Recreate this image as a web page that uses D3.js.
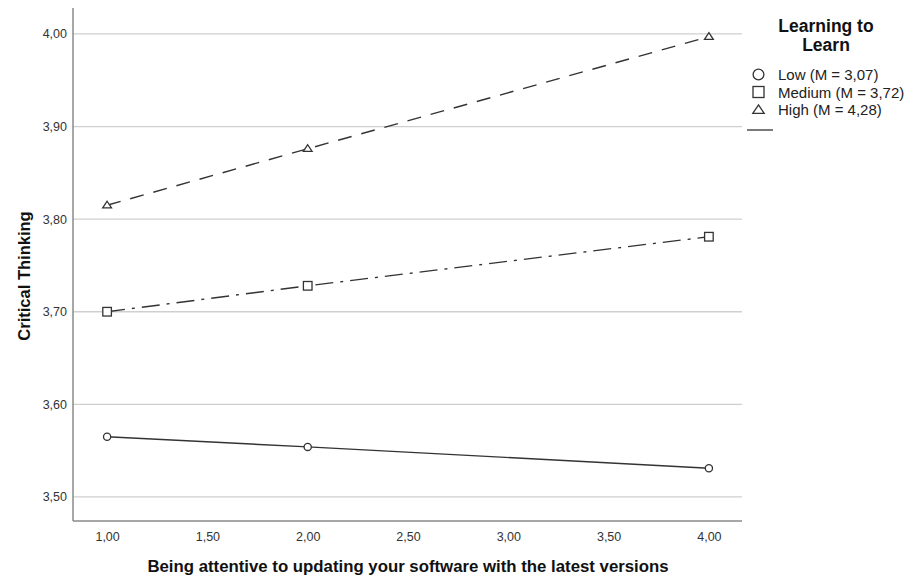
<!DOCTYPE html>
<html>
<head>
<meta charset="utf-8">
<script src="https://cdn.jsdelivr.net/npm/d3@7"></script>
<style>
  html, body { margin: 0; padding: 0; background: #fff; }
  svg { display: block; font-family: Arial, "Liberation Sans", sans-serif; }
</style>
</head>
<body>
<svg id="chart" width="915" height="585"></svg>
<script>
// Estimated marginal means of Critical Thinking by software-updating attentiveness
const xValues = [1, 2, 4];
const lowValues = [3.565, 3.554, 3.531];
const mediumValues = [3.700, 3.728, 3.781];
const highValues = [3.815, 3.876, 3.997];
const seriesNames = ["Low (M = 3,07)", "Medium (M = 3,72)", "High (M = 4,28)"];
const xTicks = [1.0, 1.5, 2.0, 2.5, 3.0, 3.5, 4.0];
const yTicks = [3.5, 3.6, 3.7, 3.8, 3.9, 4.0];

const series = [
  { name: seriesNames[0], values: lowValues, symbol: "circle", dash: null },
  { name: seriesNames[1], values: mediumValues, symbol: "square", dash: "18,7,3,7" },
  { name: seriesNames[2], values: highValues, symbol: "triangle", dash: "14,10" }
];

const svg = d3.select("#chart");
const plot = { left: 73, right: 742, top: 8, bottom: 521 };

const x = d3.scaleLinear().domain([0.83, 4.165]).range([plot.left, plot.right]);
const y = d3.scaleLinear().domain([3.474, 4.028]).range([plot.bottom, plot.top]);

const fmt = d => d3.format(".2f")(d).replace(".", ",");

// horizontal gridlines
svg.append("g")
  .selectAll("line")
  .data(yTicks)
  .join("line")
  .attr("x1", plot.left).attr("x2", plot.right)
  .attr("y1", d => y(d)).attr("y2", d => y(d))
  .attr("stroke", "#cfcfcf").attr("stroke-width", 1.3);

// axes
const xAxis = svg.append("g")
  .attr("transform", `translate(0,${plot.bottom})`)
  .call(d3.axisBottom(x).tickValues(xTicks).tickFormat(fmt).tickSize(0).tickPadding(11));
const yAxis = svg.append("g")
  .attr("transform", `translate(${plot.left},0)`)
  .call(d3.axisLeft(y).tickValues(yTicks).tickFormat(fmt).tickSize(0).tickPadding(6));
[xAxis, yAxis].forEach(g => {
  g.select(".domain").attr("stroke", "#8a8a8a").attr("stroke-width", 1.5);
  g.selectAll("text").attr("fill", "#333").style("font-size", "12.5px")
    .style("font-family", "Arial, 'Liberation Sans', sans-serif");
});
xAxis.select(".domain").attr("d", `M${plot.left},0H${plot.right}`);
yAxis.select(".domain").attr("d", `M0,${plot.top}V${plot.bottom}`);

// axis titles
svg.append("text")
  .attr("x", 408).attr("y", 572)
  .attr("text-anchor", "middle")
  .style("font-size", "16.8px").style("font-weight", "bold")
  .attr("fill", "#111")
  .text("Being attentive to updating your software with the latest versions");
svg.append("text")
  .attr("transform", `translate(30,276) rotate(-90)`)
  .attr("text-anchor", "middle")
  .style("font-size", "16.5px").style("font-weight", "bold")
  .attr("fill", "#111")
  .text("Critical Thinking");

const line = d3.line().x((d, i) => x(xValues[i])).y(d => y(d));

function drawSymbol(g, type, cx, cy, scale) {
  const s = scale || 1;
  if (type === "circle") {
    g.append("circle").attr("cx", cx).attr("cy", cy).attr("r", 3.6 * s)
      .attr("fill", "#fff").attr("stroke", "#333").attr("stroke-width", 1.3);
  } else if (type === "square") {
    const h = 4.3 * s;
    g.append("rect").attr("x", cx - h).attr("y", cy - h).attr("width", 2 * h).attr("height", 2 * h)
      .attr("fill", "#fff").attr("stroke", "#333").attr("stroke-width", 1.3);
  } else {
    const h = 4 * s;
    g.append("path")
      .attr("d", `M${cx},${cy - h}L${cx + h * 1.1},${cy + h * 0.65}L${cx - h * 1.1},${cy + h * 0.65}Z`)
      .attr("fill", "#fff").attr("stroke", "#333").attr("stroke-width", 1.3);
  }
}

const lines = svg.append("g");
series.forEach(s => {
  lines.append("path")
    .datum(s.values)
    .attr("d", line)
    .attr("fill", "none")
    .attr("stroke", "#333")
    .attr("stroke-width", 1.4)
    .attr("stroke-dasharray", s.dash);
  s.values.forEach((v, i) => drawSymbol(lines, s.symbol, x(xValues[i]), y(v)));
});

// legend
const legend = svg.append("g");
legend.append("text")
  .attr("x", 826).attr("y", 32)
  .attr("text-anchor", "middle")
  .style("font-size", "17.5px").style("font-weight", "bold").attr("fill", "#111")
  .selectAll("tspan")
  .data(["Learning to", "Learn"])
  .join("tspan")
  .attr("x", 826)
  .attr("dy", (d, i) => i === 0 ? 0 : 19)
  .text(d => d);

series.forEach((s, i) => {
  const base = 80 + i * 17.5;
  const cy = [74.5, 92, 110][i];
  drawSymbol(legend, s.symbol, 758.5, cy, [1.5, 1.28, 1.3][i]);
  legend.append("text")
    .attr("x", 778).attr("y", base)
    .style("font-size", "15px").attr("fill", "#222")
    .text(s.name);
});
legend.append("line")
  .attr("x1", 747).attr("x2", 773).attr("y1", 130).attr("y2", 130)
  .attr("stroke", "#333").attr("stroke-width", 1.3);
</script>
</body>
</html>
